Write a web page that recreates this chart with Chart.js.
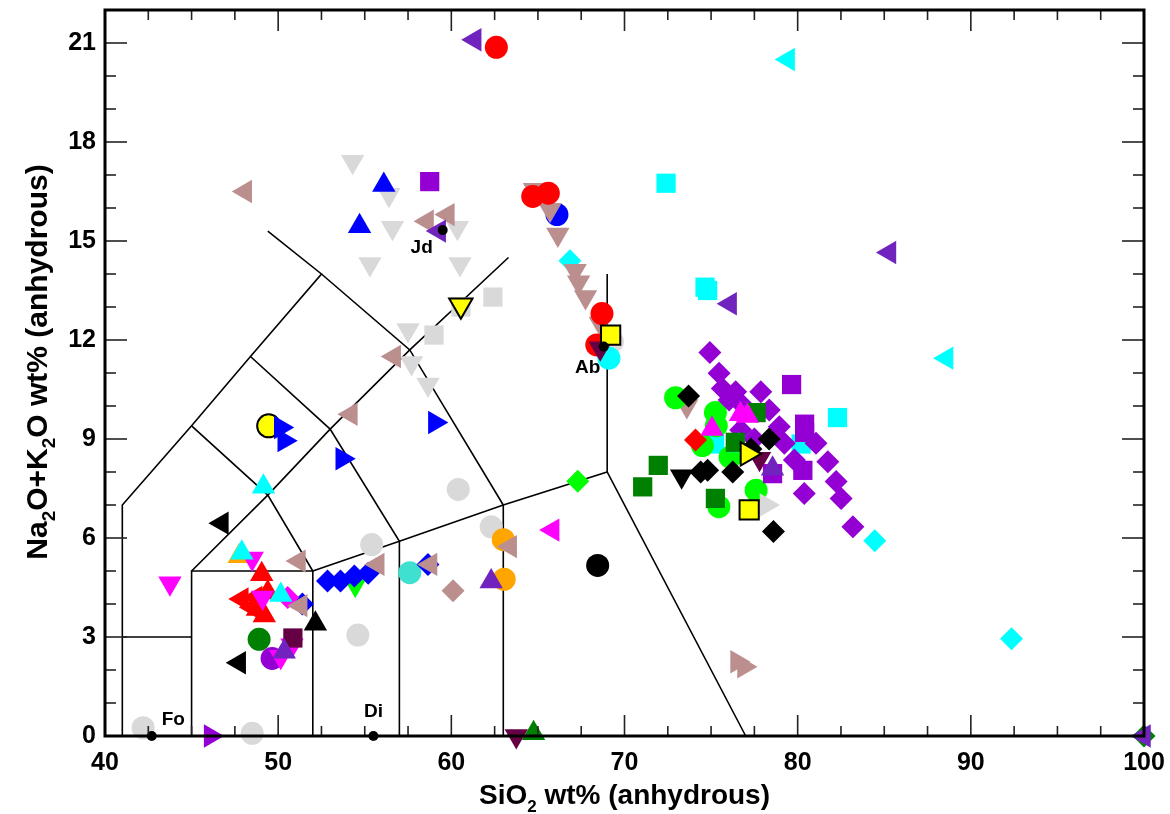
<!DOCTYPE html>
<html><head><meta charset="utf-8">
<script src="https://cdn.jsdelivr.net/npm/chart.js@4.4.1/dist/chart.umd.min.js"></script>
<style>html,body{margin:0;padding:0;background:#fff;}#wrap{width:1170px;height:814px;}</style>
</head><body><div id="wrap"><canvas id="c" width="1170" height="814"></canvas></div>
<script>
// ---------- axis ticks ----------
const xTicks = [40, 50, 60, 70, 80, 90, 100];
const yTicks = [0, 3, 6, 9, 12, 15, 18, 21];

// ---------- TAS field boundaries ----------
const tasLines = [
  [[41,0],[41,7],[45,9.4],[48.4,11.5],[52.5,14],[49.4,15.3]],
  [[52.5,14],[57.6,11.7],[63,7]],
  [[41,3],[45,3]],
  [[45,0],[45,5],[52,5],[52,0]],
  [[45,5],[49.4,7.3],[53,9.3],[57.6,11.7],[63.3,14.5]],
  [[45,9.4],[49.4,7.3],[52,5]],
  [[48.4,11.5],[53,9.3],[57,5.9],[57,0]],
  [[52,5],[57,5.9],[63,7],[69,8],[77,0]],
  [[63,0],[63,7]],
  [[69,8],[69,14]]
];

// ---------- reference minerals ----------
const refNames = ['Fo','Di','Jd','Ab'];
const refPts = [[42.7,0],[55.5,0],[59.5,15.33],[68.8,11.8]];

// ---------- sample series ----------
const grayCircle = [[42.2,0.25],[48.5,0.08],[54.6,3.06],[55.4,5.8],[60.4,7.47],[62.3,6.34],[69.3,11.95]];
const grayDown = [[54.3,17.4],[56.4,16.4],[56.6,15.4],[55.3,14.3],[60.5,14.3],[60.35,15.4],[57.5,12.3],[57.7,11.3],[58.65,10.65]];
const graySquare = [[62.4,13.3],[59.0,12.15],[60.55,13.0]];
const grayRight = [[78.2,7.0]];
const yellowDown = [[60.55,13.05]];
const yellowCircle = [[49.45,9.4]];
const yellowRight = [[77.1,8.55]];
const yellowSquare = [[77.2,6.85],[69.2,12.15]];
const blueUp = [[56.1,16.7],[54.7,15.45]];
const blueRight = [[50.15,9.35],[50.35,8.95],[53.7,8.4],[59.05,9.5]];
const blueDiamond = [[52.85,4.7],[53.6,4.7],[54.4,4.85],[55.2,4.93],[58.65,5.2],[51.4,4.0]];
const blueCircle = [[66.1,15.8]];
const redCircle = [[62.6,20.87],[64.7,16.35],[65.6,16.45],[68.7,12.8],[68.4,11.85]];
const redUp = [[49.05,4.9],[48.8,3.85],[49.2,3.65],[49.4,4.35]];
const redLeft = [[47.9,4.15],[48.7,4.2],[48.5,3.9]];
const redDiamond = [[74.1,8.97]];
const cyanUp = [[49.15,7.55],[47.9,5.55],[50.15,4.27],[76.6,8.8]];
const cyanLeft = [[79.45,20.5],[88.6,11.45]];
const cyanSquare = [[72.4,16.75],[74.65,13.6],[74.8,13.5],[82.3,9.65],[80.2,8.85],[75.2,8.85]];
const cyanDiamond = [[66.85,14.4],[84.45,5.92],[92.35,2.95]];
const cyanCircle = [[69.1,11.45]];
const turqCircle = [[57.6,4.95]];
const rosyLeft = [[48.1,16.5],[58.6,15.6],[59.8,15.8],[56.7,11.5],[54.2,9.75],[51.2,5.3],[55.75,5.2],[58.8,5.2],[51.3,3.95],[63.4,5.74]];
const rosyDown = [[64.8,16.55],[65.4,16.35],[65.7,15.95],[66.15,15.2],[67.15,14.1],[67.35,13.75],[67.75,13.3],[68.6,12.5],[68.8,11.9],[73.6,10.0]];
const rosyRight = [[76.5,2.25],[76.9,2.1]];
const rosyDiamond = [[60.1,4.4]];
const purpleLeft = [[61.35,21.1],[59.3,15.3],[76.1,13.1],[85.3,14.65],[100,0]];
const purpleUp = [[50.35,2.55],[62.3,4.68],[78.55,8.1]];
const violetDiamond = [[74.93,11.62],[75.46,10.99],[75.65,10.53],[76.42,10.43],[76.04,10.18],[76.71,10.08],[77.87,10.43],[78.36,9.88],[78.94,9.37],[79.23,8.87],[79.81,8.36],[81.06,8.87],[81.74,8.31],[82.22,7.71],[82.51,7.2],[80.38,7.35],[83.19,6.34],[76.71,9.27],[77.5,9.0]];
const violetSquare = [[58.75,16.8],[79.65,10.65],[80.4,9.45],[80.3,8.05],[78.55,7.95],[80.4,9.2]];
const violetRight = [[46.1,0]];
const violetCircle = [[49.65,2.35]];
const blackCircle = [[68.45,5.17]];
const blackLeft = [[46.75,6.45],[47.75,2.22]];
const blackUp = [[52.15,3.4]];
const blackDiamond = [[73.7,10.3],[74.4,8.0],[74.8,8.05],[76.25,8.0],[78.35,9.0],[77.3,8.7],[78.6,6.2]];
const blackDown = [[73.3,7.87]];
const limeCircle = [[72.95,10.25],[75.25,9.8],[74.5,8.8],[76.1,8.45],[77.6,7.45],[75.45,6.95],[75.3,9.4]];
const limeDiamond = [[67.3,7.72]];
const limeDown = [[54.45,4.58]];
const greenCircle = [[48.9,2.93]];
const greenSquare = [[71.95,8.2],[71.05,7.55],[75.25,7.2],[77.6,9.8],[76.4,8.9]];
const greenUp = [[64.75,0.08]];
const greenDiamond = [[100,0]];
const magentaDown = [[43.75,4.63],[48.5,5.38],[49.1,4.2],[50.8,2.75],[50.15,2.4]];
const magentaUp = [[75.05,9.3],[76.7,9.75],[77.1,9.7]];
const magentaLeft = [[65.85,6.24]];
const magentaDiamond = [[50.55,4.2]];
const orangeUp = [[47.75,5.45]];
const orangeCircle = [[63.0,5.95],[63.05,4.75]];
const maroonSquare = [[50.85,2.97]];
const maroonDown = [[63.75,0],[77.8,8.4],[68.6,11.75]];

// ---------- styling (kept separate from data) ----------
const C = {gray:'#d9d9d9', red:'#ff0000', blue:'#0000ff', cyan:'#00ffff', turq:'#40e0d0', rosy:'#bc8f8f',
  purple:'#7124bd', violet:'#9400d3', black:'#000000', lime:'#00ff00', green:'#008000', magenta:'#ff00ff',
  orange:'#ffa500', yellow:'#ffff00', maroon:'#660044'};
const SH = {
  circle:{style:'circle', rot:0, r:11.5},
  up:{style:'triangle', rot:0, r:13.5},
  down:{style:'triangle', rot:180, r:13.5},
  left:{style:'triangle', rot:270, r:13.5},
  right:{style:'triangle', rot:90, r:13.5},
  square:{style:'rect', rot:0, r:13.6},
  diamond:{style:'rectRot', rot:0, r:11.5}
};
// drawn order: earlier entries end up on top
const series = [
  [yellowRight,'yellow','right',true],[yellowSquare,'yellow','square',true],[maroonDown,'maroon','down'],
  [grayRight,'gray','right'],[purpleUp,'purple','up'],[magentaUp,'magenta','up'],[blackDown,'black','down'],
  [blackDiamond,'black','diamond'],[redDiamond,'red','diamond'],[greenSquare,'green','square'],
  [cyanUp,'cyan','up'],[violetDiamond,'violet','diamond'],[violetSquare,'violet','square'],
  [limeCircle,'lime','circle'],[cyanSquare,'cyan','square'],[purpleLeft,'purple','left'],
  [cyanCircle,'cyan','circle'],[redCircle,'red','circle'],[rosyDown,'rosy','down'],[blueCircle,'blue','circle'],
  [cyanDiamond,'cyan','diamond'],[cyanLeft,'cyan','left'],
  [yellowDown,'yellow','down',true],[blueRight,'blue','right'],[yellowCircle,'yellow','circle',true],
  [maroonSquare,'maroon','square'],[magentaDown,'magenta','down'],[violetCircle,'violet','circle'],
  [blackUp,'black','up'],[blackLeft,'black','left'],[greenCircle,'green','circle'],
  [rosyLeft,'rosy','left'],[magentaDiamond,'magenta','diamond'],[blueDiamond,'blue','diamond'],
  [redUp,'red','up'],[redLeft,'red','left'],[orangeUp,'orange','up'],[limeDown,'lime','down'],
  [turqCircle,'turq','circle'],[rosyDiamond,'rosy','diamond'],[orangeCircle,'orange','circle'],
  [magentaLeft,'magenta','left'],[blackCircle,'black','circle'],[rosyRight,'rosy','right'],
  [limeDiamond,'lime','diamond'],[greenUp,'green','up'],[greenDiamond,'green','diamond'],
  [violetRight,'violet','right'],[blueUp,'blue','up'],[graySquare,'gray','square'],
  [grayDown,'gray','down'],[grayCircle,'gray','circle']
];

const toXY = arr => arr.map(p => ({x:p[0], y:p[1]}));
const datasets = [];
datasets.push({label:'ref', data: toXY(refPts), pointStyle:'circle', pointRadius:5, backgroundColor:'#000', borderWidth:0, clip:false});
series.forEach(([d,c,s,outl]) => {
  const sh = SH[s];
  datasets.push({label:c+'-'+s, data: toXY(d), pointStyle: sh.style, rotation: sh.rot, pointRadius: sh.r,
    backgroundColor: C[c], borderColor: outl ? '#000' : C[c], borderWidth: outl ? 2 : 0, clip:false});
});
tasLines.forEach((ln,i) => {
  datasets.push({label:'tas'+i, data: toXY(ln), showLine:true, pointRadius:0, borderColor:'#000', borderWidth:1.6, fill:false, clip:false});
});

const FONT = '"Liberation Sans", Arial, sans-serif';

function drawRich(ctx, parts, size) {
  const subSize = Math.round(size*0.62);
  let w = 0;
  parts.forEach(p => { ctx.font = 'bold ' + (p.sub?subSize:size) + 'px ' + FONT; p.w = ctx.measureText(p.t).width; w += p.w; });
  let x = -w/2;
  parts.forEach(p => { ctx.font = 'bold ' + (p.sub?subSize:size) + 'px ' + FONT; ctx.fillText(p.t, x, p.sub ? size*0.28 : 0); x += p.w; });
}

const decor = {
  id:'decor',
  afterDraw(chart) {
    const {ctx, chartArea:a, scales:{x, y}} = chart;
    ctx.save();
    ctx.strokeStyle = '#222'; ctx.lineWidth = 1.6;
    const seg = (x1,y1,x2,y2) => { ctx.beginPath(); ctx.moveTo(x1,y1); ctx.lineTo(x2,y2); ctx.stroke(); };
    for (let v = x.min; v <= x.max + 1e-9; v += 2.5) {
      const px = x.getPixelForValue(v);
      const len = (Math.abs(v % 10) < 1e-6) ? 21 : 10;
      seg(px, a.bottom, px, a.bottom - len); seg(px, a.top, px, a.top + len);
    }
    for (let v = y.min; v <= y.max + 1e-9; v += 1) {
      const py = y.getPixelForValue(v);
      const len = (Math.abs(v % 3) < 1e-6) ? 22 : 11;
      seg(a.left, py, a.left + len, py); seg(a.right, py, a.right - len, py);
    }
    ctx.strokeStyle = '#000'; ctx.lineWidth = 3;
    ctx.strokeRect(a.left, a.top, a.right - a.left, a.bottom - a.top);
    // reference labels
    ctx.fillStyle = '#000';
    ctx.font = 'bold 19px ' + FONT; ctx.textBaseline = 'middle';
    const offs = {Fo:[10,-16,'left'], Di:[0,-24,'center'], Jd:[-21,18,'center'], Ab:[-16,21,'center']};
    refNames.forEach((n,i) => {
      const px = x.getPixelForValue(refPts[i][0]), py = y.getPixelForValue(refPts[i][1]);
      const o = offs[n]; ctx.textAlign = o[2];
      ctx.fillText(n, px + o[0], py + o[1]);
    });
    // axis titles
    ctx.textAlign = 'left'; ctx.textBaseline = 'alphabetic';
    ctx.save();
    ctx.translate((a.left + a.right)/2, 804);
    drawRich(ctx, [{t:'SiO'},{t:'2',sub:true},{t:' wt% (anhydrous)'}], 28);
    ctx.restore();
    ctx.save();
    ctx.translate(47, 362);
    ctx.rotate(-Math.PI/2);
    drawRich(ctx, [{t:'Na'},{t:'2',sub:true},{t:'O+K'},{t:'2',sub:true},{t:'O wt% (anhydrous)'}], 30);
    ctx.restore();
    ctx.restore();
  }
};

new Chart(document.getElementById('c'), {
  type:'scatter',
  data:{datasets},
  options:{
    responsive:false, animation:false, devicePixelRatio:1, events:[],
    layout:{autoPadding:false, padding:{top:10, right:26, left:0, bottom:0}},
    plugins:{legend:{display:false}, tooltip:{enabled:false}},
    scales:{
      x:{type:'linear', min:40, max:100,
        afterBuildTicks: s => { s.ticks = xTicks.map(v => ({value:v})); },
        afterFit: s => { s.height = 78; s.paddingLeft = 0; s.paddingRight = 0; },
        grid:{display:true, drawOnChartArea:false, drawTicks:false, color:'rgba(0,0,0,0)'},
        border:{display:false},
        ticks:{font:{family:FONT, size:25, weight:'bold'}, color:'#000', padding:12, maxRotation:0, autoSkip:false}
      },
      y:{type:'linear', min:0, max:22,
        afterBuildTicks: s => { s.ticks = yTicks.map(v => ({value:v})); },
        afterFit: s => { s.width = 105; s.paddingTop = 0; s.paddingBottom = 0; },
        grid:{display:true, drawOnChartArea:false, drawTicks:false, color:'rgba(0,0,0,0)'},
        border:{display:false},
        ticks:{font:{family:FONT, size:25, weight:'bold', lineHeight:0.5}, color:'#000', padding:9, autoSkip:false}
      }
    }
  },
  plugins:[decor]
});
</script></body></html>
